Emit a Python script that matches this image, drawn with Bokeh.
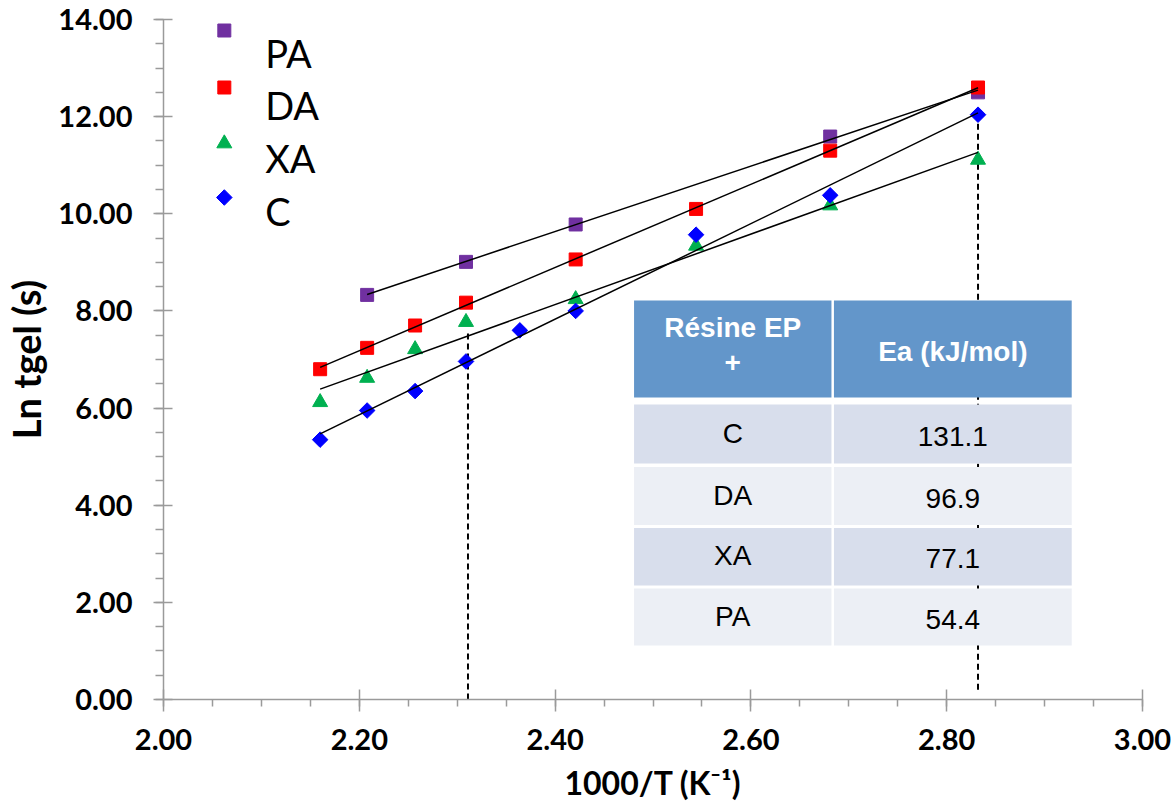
import numpy as np
from bokeh.plotting import figure
from bokeh.models import Range1d, SingleIntervalTicker, NumeralTickFormatter
from bokeh.core.properties import value
from bokeh.embed import file_html
from bokeh.resources import INLINE

# ---------------- data ----------------
x_C = [2.160, 2.208, 2.257, 2.309, 2.364, 2.421, 2.544, 2.681, 2.832]
y_C = [5.35, 5.95, 6.35, 6.96, 7.60, 8.00, 9.57, 10.38, 12.04]

x_DA = [2.160, 2.208, 2.257, 2.309, 2.421, 2.544, 2.681, 2.832]
y_DA = [6.80, 7.24, 7.70, 8.17, 9.06, 10.10, 11.30, 12.60]

x_XA = [2.160, 2.208, 2.257, 2.309, 2.421, 2.544, 2.681, 2.832]
y_XA = [6.12, 6.62, 7.21, 7.77, 8.24, 9.34, 10.17, 11.11]

x_PA = [2.208, 2.309, 2.421, 2.681, 2.832]
y_PA = [8.33, 9.01, 9.78, 11.59, 12.50]

guide_x = [2.311, 2.832]
guide_y0 = [0.0, 0.2]
guide_y1 = [7.55, 11.9]

legend_labels = ["PA", "DA", "XA", "C"]

table_header = ["Résine EP", "+", "Ea (kJ/mol)"]
table_resin = ["C", "DA", "XA", "PA"]
table_ea = ["131.1", "96.9", "77.1", "54.4"]

x_title = "1000/T (K\u207b\u00b9)"
y_title = "Ln tgel (s)"

# ---------------- layout helpers (canvas pixels -> data) ----------------
X0, X1, Y0, Y1 = 2.0, 3.0, 0.0, 14.0
W, H = 1172, 804
FL, FR, FT, FB = 160.0, 1142.0, 19.0, 699.0


def dx(px):
    return X0 + (px - FL) / (FR - FL) * (X1 - X0)


def dy(py):
    return Y0 + (FB - py) / (FB - FT) * (Y1 - Y0)


p = figure(width=W, height=H, x_range=Range1d(X0, X1), y_range=Range1d(Y0, Y1),
           output_backend="svg", toolbar_location=None,
           min_border_left=int(FL), min_border_right=int(W - FR),
           min_border_top=int(FT), min_border_bottom=int(H - FB))
p.outline_line_color = None
p.xgrid.visible = False
p.ygrid.visible = False
p.background_fill_color = "white"
p.border_fill_color = "white"

AX = "#9A9A9A"
FONT = "Lato"

xa = p.xaxis[0]
xa.ticker = SingleIntervalTicker(interval=0.2, num_minor_ticks=4)
xa.formatter = NumeralTickFormatter(format="0.00")
xa.axis_line_color = AX
xa.axis_line_width = 1.5
xa.major_tick_line_color = AX
xa.minor_tick_line_color = AX
xa.major_tick_line_width = 1.5
xa.minor_tick_line_width = 1.5
xa.major_tick_in = 10
xa.major_tick_out = 12
xa.minor_tick_in = 0
xa.minor_tick_out = 7
xa.major_label_text_font = FONT
xa.major_label_text_font_style = "bold"
xa.major_label_text_font_size = "29px"
xa.major_label_text_color = "black"
xa.major_label_standoff = 17
xa.axis_label = x_title
xa.axis_label_text_font = FONT
xa.axis_label_text_font_style = "bold"
xa.axis_label_text_font_size = "32px"
xa.axis_label_text_color = "black"
xa.axis_label_standoff = 10

ya = p.yaxis[0]
ya.ticker = SingleIntervalTicker(interval=2, num_minor_ticks=4)
ya.formatter = NumeralTickFormatter(format="0.00")
ya.axis_line_color = AX
ya.axis_line_width = 1.5
ya.major_tick_line_color = AX
ya.minor_tick_line_color = AX
ya.major_tick_line_width = 1.5
ya.minor_tick_line_width = 1.5
ya.major_tick_in = 9
ya.major_tick_out = 10
ya.minor_tick_in = 0
ya.minor_tick_out = 8
ya.major_label_text_font = FONT
ya.major_label_text_font_style = "bold"
ya.major_label_text_font_size = "29px"
ya.major_label_text_color = "black"
ya.major_label_standoff = 21
ya.axis_label = y_title
ya.axis_label_text_font = FONT
ya.axis_label_text_font_style = "bold"
ya.axis_label_text_font_size = "38px"
ya.axis_label_text_color = "black"
ya.axis_label_standoff = 6

# ---------------- dashed guides ----------------
p.segment(x0=guide_x, y0=guide_y0, x1=guide_x, y1=guide_y1,
          line_color="black", line_width=2, line_dash="6 4")

# ---------------- table ----------------
HEAD = "#6396CA"
ROW_A = "#D8DEEC"
ROW_B = "#ECEFF5"
c1 = (632, 830)
c2 = (832.5, 1071)
head_y = (300, 397)
rows_y = [(404, 463), (466.5, 524.5), (527.5, 585), (588, 645)]

ql, qr, qt, qb, qc = [], [], [], [], []
for cx in (c1, c2):
    ql.append(dx(cx[0])); qr.append(dx(cx[1])); qt.append(dy(head_y[0])); qb.append(dy(head_y[1])); qc.append(HEAD)
    for i, ry in enumerate(rows_y):
        ql.append(dx(cx[0])); qr.append(dx(cx[1])); qt.append(dy(ry[0])); qb.append(dy(ry[1]))
        qc.append(ROW_A if i % 2 == 0 else ROW_B)
p.quad(left=ql, right=qr, top=qt, bottom=qb, fill_color=qc, line_color=None)

cx1 = (c1[0] + c1[1]) / 2
cx2 = (c2[0] + c2[1]) / 2
p.text(x=[dx(cx1), dx(cx1), dx(cx2)], y=[dy(327), dy(362), dy(351)],
       text=table_header,
       text_font=value("Liberation Sans"), text_font_style="bold", text_font_size="28px",
       text_color="white", text_align="center", text_baseline="middle")
ry_c = [(a + b) / 2 for a, b in rows_y]
p.text(x=[dx(cx1)] * 4 + [dx(cx2)] * 4,
       y=[dy(v - 1) for v in ry_c] + [dy(v + 2) for v in ry_c],
       text=table_resin + table_ea,
       text_font=value("Liberation Sans"), text_font_size="28px",
       text_color="black", text_align="center", text_baseline="middle")

# ---------------- series ----------------
styles = {
    "PA": dict(marker="square", size=13, angle=0.0, color="#7030A0"),
    "DA": dict(marker="square", size=13, angle=0.0, color="#FF0000"),
    "XA": dict(marker="triangle", size=15, angle=0.0, color="#00B050"),
    "C": dict(marker="square", size=11, angle=np.pi / 4, color="#0000FF"),
}
series = {"PA": (x_PA, y_PA), "DA": (x_DA, y_DA), "XA": (x_XA, y_XA), "C": (x_C, y_C)}

for name in ["PA", "DA", "XA", "C"]:
    xs, ys = series[name]
    st = styles[name]
    p.scatter(xs, ys, marker=st["marker"], size=st["size"], angle=st["angle"],
              fill_color=st["color"], line_color=st["color"])

for name in ["PA", "DA", "XA", "C"]:
    xs, ys = series[name]
    m, b = np.polyfit(xs, ys, 1)
    xl = [min(xs), max(xs)]
    p.line(xl, [m * v + b for v in xl], line_color="black", line_width=1.5)

# ---------------- legend (key drawn in the plot's upper-left corner) ----------------
key_marker_py = [30, 87, 143, 197]
key_text_py = [52, 104, 157, 210]
for i, name in enumerate(legend_labels):
    st = styles[name]
    p.scatter([dx(221)], [dy(key_marker_py[i])], marker=st["marker"], size=st["size"],
              angle=st["angle"], fill_color=st["color"], line_color=st["color"])
p.text(x=[dx(262)] * 4, y=[dy(v) for v in key_text_py], text=legend_labels,
       text_font=value(FONT), text_font_size="38px", text_color="black",
       text_align="left", text_baseline="middle")

open("out.html", "w").write(file_html(p, INLINE))
